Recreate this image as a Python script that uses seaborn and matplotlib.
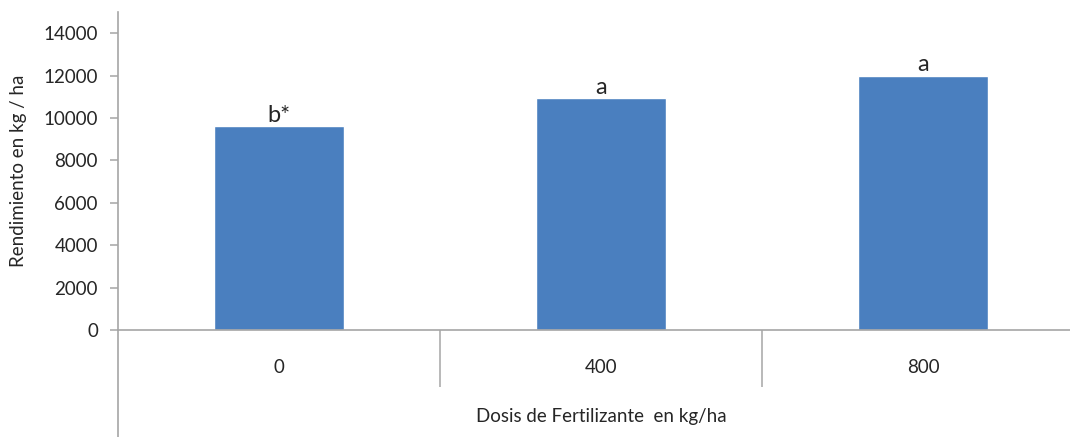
import matplotlib
matplotlib.use("Agg")
import matplotlib.pyplot as plt
import seaborn as sns
import pandas as pd

# Yield by fertilizer dose
dosis = ["0", "400", "800"]
rendimiento = [9600, 10950, 12000]
letras = ["b*", "a", "a"]
y_ticks = [0, 2000, 4000, 6000, 8000, 10000, 12000, 14000]

sns.set_style("white")
plt.rcParams["font.family"] = ["Lato", "DejaVu Sans"]

df = pd.DataFrame({"dosis": dosis, "rendimiento": rendimiento})

AXIS_GREY = "#A6A6A6"
TEXT = "#262626"
BAR = "#4A7FBF"

fig = plt.figure(figsize=(10.70, 4.37), dpi=100)
ax = fig.add_axes([0.1103, 0.2449, 0.9028, 0.7277])

sns.barplot(data=df, x="dosis", y="rendimiento", color=BAR, saturation=1,
            width=0.404, ax=ax, errorbar=None)

ax.set_xlim(-0.5, len(dosis) - 0.5)
ax.set_ylim(0, 15000)
ax.set_yticks(y_ticks)
ax.set_yticklabels([str(t) for t in y_ticks])

for side in ("top", "right"):
    ax.spines[side].set_visible(False)
for side in ("left", "bottom"):
    ax.spines[side].set_color(AXIS_GREY)
    ax.spines[side].set_linewidth(1.2)

ax.tick_params(axis="y", direction="out", length=6, width=1.1, color=AXIS_GREY,
               labelsize=13.5, labelcolor=TEXT, pad=8.5, left=True)
ax.tick_params(axis="x", which="major", length=0, labelsize=13.5,
               labelcolor=TEXT, pad=21)

# category separators below the axis
ax.set_xticks([i + 0.5 for i in range(len(dosis) - 1)], minor=True)
ax.tick_params(axis="x", which="minor", direction="out", length=41, width=1.1,
               color=AXIS_GREY, bottom=True)

# value axis continues down through the category area
ax.plot([-0.5, -0.5], [0, -0.34], transform=ax.get_xaxis_transform(),
        color=AXIS_GREY, lw=1.2, clip_on=False, solid_capstyle="butt")

# significance letters above each bar
for i, (v, t) in enumerate(zip(rendimiento, letras)):
    ax.annotate(t, xy=(i, v), xytext=(0, 3), textcoords="offset points",
                ha="center", va="baseline", fontsize=17, color=TEXT)

ax.set_xlabel("Dosis de Fertilizante  en kg/ha", fontsize=13.5, color=TEXT)
ax.xaxis.set_label_coords(0.5, -0.245)
ax.set_ylabel("Rendimiento en kg / ha", fontsize=13.5, color=TEXT)
ax.yaxis.label.set_va("center")
ax.yaxis.set_label_coords(-0.103, 0.5)

fig.savefig("out.png", dpi=100)
